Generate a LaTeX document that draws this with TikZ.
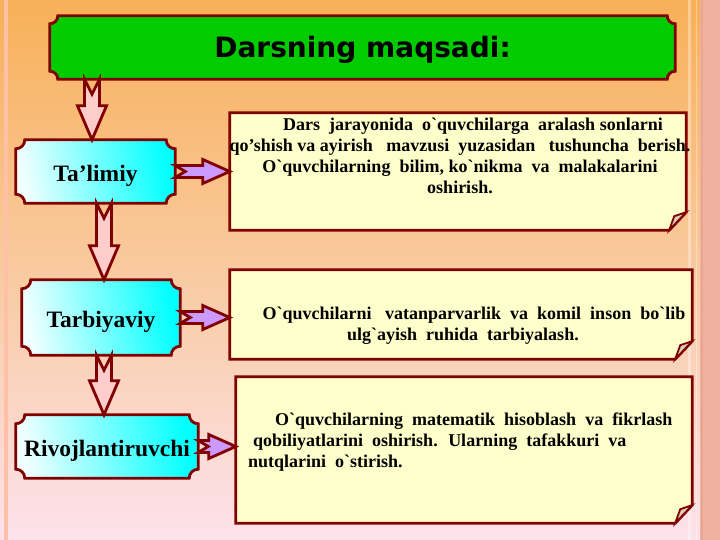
\documentclass[tikz,border=0pt]{standalone}
\usepackage{fontspec}
\setmainfont{Liberation Serif}[Ligatures=TeXOff]
\newfontfamily\headfont{DejaVu Sans}
\usetikzlibrary{calc,positioning}

\definecolor{edgered}{RGB}{128,0,0}
\definecolor{headgreen}{RGB}{0,204,0}
\definecolor{notefill}{RGB}{255,255,204}
\definecolor{downfill}{RGB}{255,204,204}
\definecolor{sidefill}{RGB}{204,153,255}
\definecolor{flapfill}{RGB}{214,204,186}
\definecolor{bgtop}{RGB}{248,176,88}
\definecolor{bgmid}{RGB}{249,202,160}
\definecolor{bgbot}{RGB}{252,226,236}
\definecolor{stripe}{RGB}{255,192,168}
\definecolor{margin}{RGB}{238,178,158}

\pgfdeclarelayer{back}
\pgfdeclarelayer{bg}
\pgfsetlayers{back,bg,main}

\tikzset{edge/.style={draw=edgered, line width=2.8pt, line join=miter},
         headbox/.style={inner sep=0pt, minimum width=625, minimum height=63,
                         text height=21pt, text depth=0pt,
                         font=\headfont\bfseries\fontsize{28}{32}\selectfont},
         stepbox/.style={inner sep=0pt, text height=20pt, text depth=0pt,
                         font=\bfseries\fontsize{23.5}{28}\selectfont},
         note/.style={inner sep=0pt},
         notetext/.style={inner sep=0pt, anchor=north, font=\bfseries\fontsize{18}{21}\selectfont},
         downarrow/.style={to path={let \p1=(\tikztostart), \p2=(\tikztotarget) in
            (\x1-7.5pt,\y1) -- (\x1,\y1-15pt) -- (\x1+7.5pt,\y1) -- (\x1+7.5pt,\y2+34pt) --
            (\x1+14.5pt,\y2+34pt) -- (\x1,\y2) -- (\x1-14.5pt,\y2+34pt) -- (\x1-7.5pt,\y2+34pt) -- cycle}},
         rightarrow/.style={to path={let \p1=(\tikztostart), \p2=(\tikztotarget) in
            (\x1,\y1+6pt) -- (\x2-27pt,\y1+6pt) -- (\x2-27pt,\y1+12pt) -- (\x2,\y1) --
            (\x2-27pt,\y1-12pt) -- (\x2-27pt,\y1-6pt) -- (\x1,\y1-6pt) -- (\x1+10pt,\y1) -- cycle}}}

% rectangle with concave corners round a node
\newcommand\bevelbox[3]{%
  \path[edge,#2] ([xshift=#3]#1.north west) -- ([xshift=-#3]#1.north east)
     arc[start angle=180,end angle=270,radius=#3] -- ([yshift=#3]#1.south east)
     arc[start angle=90,end angle=180,radius=#3] -- ([xshift=#3]#1.south west)
     arc[start angle=0,end angle=90,radius=#3] -- ([yshift=-#3]#1.north west)
     arc[start angle=270,end angle=360,radius=#3] -- cycle;}

% note with a folded corner round a node
\newcommand\notebox[1]{%
  \path[edge,fill=notefill] (#1.north west) -- (#1.north east) -- ([yshift=18pt]#1.south east) --
     ([xshift=-17pt]#1.south east) -- (#1.south west) -- cycle;
  \path[edge,fill=flapfill,line width=1.8pt] ([yshift=18pt]#1.south east) --
     ([xshift=-12pt,yshift=14pt]#1.south east) -- ([xshift=-17pt]#1.south east) -- cycle;}

\begin{document}
\begin{tikzpicture}[x=1pt,y=1pt]
  \useasboundingbox (0,0) rectangle (720,-540);
  \begin{pgfonlayer}{back}
    \path[top color=bgtop, bottom color=bgbot, middle color=bgmid] (0,0) rectangle (720,-540);
    \fill[stripe] (4,0) rectangle (8,-540);
    \fill[white,opacity=.35] (688,0) rectangle (691,-540);
    \fill[white,opacity=.35] (696,0) rectangle (697,-540);
    \fill[margin] (700,0) rectangle (720,-540);
    \fill[stripe!70!edgered,opacity=.25] (701,0) rectangle (702.5,-540);
  \end{pgfonlayer}

  \node[headbox] (head) at (362.5,-47.5) {Darsning maqsadi:};

  \node[stepbox, minimum width=159, minimum height=63] (talim) at (95.5,-171.5) {Ta’limiy};
  \node[stepbox, minimum width=158, minimum height=75] (tarb)  at (101,-317.5) {Tarbiyaviy};
  \node[stepbox, minimum width=182, minimum height=63] (rivoj) at (107,-446.5) {Rivojlantiruvchi};

  \node[note, minimum width=456, minimum height=117] (aim1) at (458,-171.5) {};
  \node[note, minimum width=462, minimum height=89]  (aim2) at (461,-314.5) {};
  \node[note, minimum width=456, minimum height=146] (aim3) at (464,-450) {};

  \node[notetext, align=center] (txt1) at (460,-118)
    {\hspace*{26pt}Dars~ jarayonida~ o`quvchilarga~ aralash sonlarni\\
     qo’shish va ayirish~~ mavzusi~ yuzasidan~~ tushuncha~ berish.\\
     O`quvchilarning~ bilim, ko`nikma~ va~ malakalarini\\
     oshirish.};
  \node[notetext, align=center] (txt2) at (463,-307)
    {\hspace*{22pt}O`quvchilarni~~ vatanparvarlik~ va~ komil~ inson~ bo`lib\\
     ulg`ayish~ ruhida~ tarbiyalash.};
  \node[notetext, align=left, anchor=north west] (txt3) at (248,-413)
    {\hspace*{27pt}O`quvchilarning~ matematik~ hisoblash~ va~ fikrlash\\
     \hspace*{5pt}qobiliyatlarini~ oshirish.~ Ularning~ tafakkuri~ va\\
     nutqlarini~ o`stirish.};

  \begin{pgfonlayer}{bg}
    \bevelbox{head}{fill=headgreen}{8}
    \bevelbox{talim}{left color=cyan!6!white, right color=cyan, shading angle=100}{9}
    \bevelbox{tarb}{left color=cyan!6!white, right color=cyan, shading angle=100}{9}
    \bevelbox{rivoj}{left color=cyan!6!white, right color=cyan, shading angle=100}{9}
    \notebox{aim1}
    \notebox{aim2}
    \notebox{aim3}
  \end{pgfonlayer}

  \path[edge,fill=downfill] ([xshift=-3.5pt]talim.north |- head.south) to[downarrow] ([xshift=-3.5pt]talim.north);
  \path[edge,fill=downfill] ([xshift=8.5pt]talim.south) to[downarrow] ([xshift=8.5pt]talim.south |- tarb.north);
  \path[edge,fill=downfill] ([xshift=3pt]tarb.south) to[downarrow] ([xshift=3pt]tarb.south |- rivoj.north);

  \path[edge,fill=sidefill] (talim.east) to[rightarrow] (talim.east -| aim1.west);
  \path[edge,fill=sidefill] (tarb.east) to[rightarrow] (tarb.east -| aim2.west);
  \path[edge,fill=sidefill] (rivoj.east) to[rightarrow] (rivoj.east -| aim3.west);
\end{tikzpicture}
\end{document}
